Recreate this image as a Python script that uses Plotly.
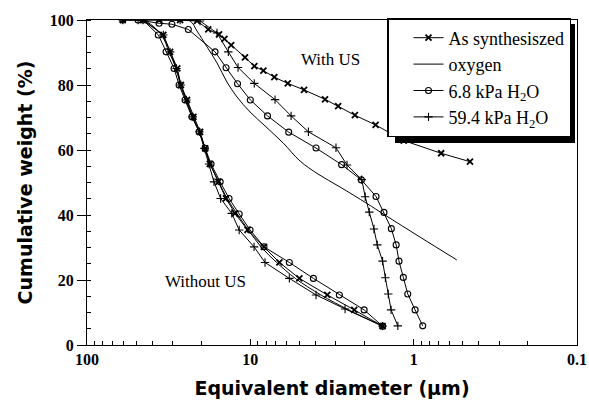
import math
import plotly.graph_objects as go

# Cumulative size distributions (equivalent diameter in µm, cumulative weight in %)
# --- With US ---
as_us_d = [36.2, 26.9, 21.2, 18.1, 15.55, 14.4, 13.1, 10.78, 9.45, 8.32, 7.13, 5.90, 4.69, 3.49, 2.90, 2.29, 1.71, 1.15, 0.679, 0.452]
as_us_y = [100, 100, 99.7, 97.1, 95.6, 94.2, 92.3, 88.5, 85.8, 84.4, 82.4, 80.5, 78.5, 75.6, 73.5, 70.7, 67.7, 62.9, 59.0, 56.4]

oxy_us_d = [48.7, 30.0, 23.4, 21.2, 18.4, 16.0, 13.9, 12.06, 10.04, 8.13, 6.31, 4.96, 3.85, 2.82, 1.94, 1.50, 0.914, 0.545]
oxy_us_y = [100, 100, 99.7, 96.6, 91.7, 86.8, 80.9, 76.3, 71.7, 67.4, 62.2, 56.6, 52.6, 48.6, 43.6, 40.0, 33.2, 26.2]

h68_us_d = [48.7, 36.2, 30.2, 23.97, 16.45, 14.08, 11.98, 10.0, 7.85, 5.82, 3.96, 2.76, 2.09, 1.70, 1.52, 1.37, 1.28, 1.23, 1.157, 1.087, 0.98, 0.88]
h68_us_y = [100, 99.0, 98.7, 97.1, 90.2, 85.3, 80.4, 75.4, 70.5, 65.5, 60.6, 55.5, 50.8, 45.7, 40.8, 35.8, 30.8, 25.8, 20.8, 15.7, 10.8, 5.9]

h594_us_d = [48.7, 26.9, 20.3, 16.0, 13.64, 11.89, 9.46, 7.06, 5.63, 4.41, 2.99, 2.56, 2.08, 1.98, 1.87, 1.75, 1.67, 1.55, 1.49, 1.43, 1.375, 1.25]
h594_us_y = [100, 100, 99.7, 96.0, 90.2, 85.4, 80.5, 75.5, 70.5, 65.6, 60.7, 55.4, 50.9, 45.6, 40.9, 35.7, 30.8, 25.8, 20.7, 15.7, 10.8, 5.9]

# --- Without US ---
as_wo_d = [60.4, 45.4, 34.1, 31.0, 28.0, 26.6, 24.4, 22.3, 20.3, 18.9, 17.7, 15.7, 14.1, 12.4, 10.4, 8.25, 6.64, 5.01, 3.38, 2.31, 1.55]
as_wo_y = [100, 100, 95.4, 90.2, 85.1, 80.0, 75.4, 70.2, 65.6, 60.5, 55.7, 50.2, 45.1, 40.5, 35.4, 30.2, 25.4, 20.5, 15.4, 10.8, 5.8]

oxy_wo_d = [60.4, 45.4, 35.0, 31.5, 28.5, 26.8, 24.8, 22.6, 20.5, 19.0, 17.6, 15.6, 13.9, 12.1, 10.3, 8.6, 6.9, 5.3, 3.7, 2.5, 1.55]
oxy_wo_y = [100, 100, 95.4, 90.2, 85.1, 80.0, 75.4, 70.2, 65.6, 60.5, 55.7, 50.2, 45.1, 40.5, 35.4, 30.2, 25.4, 20.5, 15.4, 10.8, 5.8]

h68_wo_d = [60.4, 45.4, 36.6, 32.8, 29.3, 27.3, 25.1, 22.8, 20.6, 18.9, 17.4, 15.3, 13.5, 11.7, 10.04, 8.25, 5.77, 4.11, 2.85, 2.01, 1.55]
h68_wo_y = [100, 100, 95.4, 90.2, 85.1, 80.0, 75.4, 70.2, 65.6, 60.5, 55.7, 50.2, 45.1, 40.3, 35.4, 30.2, 25.4, 20.5, 15.4, 10.8, 5.8]

h594_wo_d = [60.4, 45.4, 34.1, 31.0, 28.3, 26.6, 24.6, 22.5, 20.5, 19.1, 17.9, 16.7, 15.2, 13.0, 11.7, 9.49, 8.13, 5.77, 3.96, 2.63, 1.55]
h594_wo_y = [100, 100, 95.4, 90.2, 85.1, 80.0, 75.4, 70.2, 65.6, 60.5, 55.7, 50.2, 45.1, 40.5, 35.4, 30.2, 25.4, 20.5, 15.4, 11.1, 5.8]

x_ticks = [100, 10, 1, 0.1]
x_tick_text = ["100", "10", "1", "0.1"]
x_minor = [m * 10.0 ** e for e in (-1, 0, 1) for m in range(2, 10)]

series_names = ["As synthesiszed", "oxygen", "6.8 kPa H<sub>2</sub>O", "59.4 kPa H<sub>2</sub>O"]

SERIF = "Liberation Serif, Times New Roman, serif"
SANS = "DejaVu Sans, Arial, sans-serif"

styles = [
    dict(mode="lines+markers", marker=dict(symbol="x-thin", size=6, line=dict(width=1.8, color="black"), color="black")),
    dict(mode="lines", line_shape="spline"),
    dict(mode="lines+markers", marker=dict(symbol="circle-open", size=6, line=dict(width=1.1, color="black"), color="black")),
    dict(mode="lines+markers", marker=dict(symbol="cross-thin", size=6, line=dict(width=1.1, color="black"), color="black")),
]

with_us = [(as_us_d, as_us_y), (oxy_us_d, oxy_us_y), (h68_us_d, h68_us_y), (h594_us_d, h594_us_y)]
without_us = [(as_wo_d, as_wo_y), (oxy_wo_d, oxy_wo_y), (h68_wo_d, h68_wo_y), (h594_wo_d, h594_wo_y)]

fig = go.Figure()
for i, ((dx, dy), st) in enumerate(zip(with_us, styles)):
    fig.add_trace(go.Scatter(x=dx, y=dy, name=series_names[i], line=dict(color="black", width=1),
                             showlegend=True, **st))
for i, ((dx, dy), st) in enumerate(zip(without_us, styles)):
    fig.add_trace(go.Scatter(x=dx, y=dy, name=series_names[i], line=dict(color="black", width=1),
                             showlegend=False, **st))

# plot-area geometry in pixels, used to place the legend and its drop shadow
W, H = 589, 407
ML, MR, MT, MB = 87, 12, 20, 62
PW, PH = W - ML - MR, H - MT - MB


def px_to_paper(px, py):
    return (px - ML) / PW, (H - MB - py) / PH


lx, ly = px_to_paper(387, 18)
sx0, sy0 = px_to_paper(395, 143)
sx1, sy1 = px_to_paper(575, 24)
fig.add_shape(type="rect", xref="paper", yref="paper", x0=sx0, x1=sx1, y0=sy0, y1=sy1,
              fillcolor="black", line=dict(width=0), layer="above")

fig.add_annotation(x=math.log10(3.25), y=87.7, xref="x", yref="y", text="With US", showarrow=False,
                   font=dict(family=SERIF, size=17, color="black"))
fig.add_annotation(x=math.log10(18.9), y=19.4, xref="x", yref="y", text="Without US", showarrow=False,
                   font=dict(family=SERIF, size=17, color="black"))

fig.update_layout(
    width=W, height=H,
    margin=dict(l=ML, r=MR, t=MT, b=MB),
    paper_bgcolor="white", plot_bgcolor="white",
    showlegend=True,
    legend=dict(x=lx, y=ly, xanchor="left", yanchor="top",
                bgcolor="white", bordercolor="black", borderwidth=1.5,
                font=dict(family=SERIF, size=18, color="black"),
                itemwidth=30, tracegroupgap=0, indentation=20),
    xaxis=dict(
        type="log", range=[2, -1], automargin=False,
        tickvals=x_ticks, ticktext=x_tick_text,
        ticks="inside", ticklen=6, tickcolor="black",
        minor=dict(tickmode="array", tickvals=x_minor, ticks="inside", ticklen=4,
                   tickcolor="black", showgrid=False),
        showline=True, linecolor="black", linewidth=1, mirror=True,
        showgrid=False, zeroline=False,
        tickfont=dict(family=SERIF, size=16, color="black", weight="bold"),
        title=dict(text="Equivalent diameter (\u03bcm)", standoff=14,
                   font=dict(family=SANS, size=19, color="black", weight="bold")),
    ),
    yaxis=dict(
        range=[0, 100], dtick=20, automargin=False,
        ticks="outside", ticklen=9, tickcolor="black",
        minor=dict(dtick=5, ticks="inside", ticklen=4, tickcolor="black", showgrid=False),
        showline=True, linecolor="black", linewidth=1, mirror=True,
        showgrid=False, zeroline=False,
        tickfont=dict(family=SERIF, size=16, color="black", weight="bold"),
        title=dict(text="Cumulative weight (%)", standoff=12,
                   font=dict(family=SANS, size=19, color="black", weight="bold")),
    ),
)

fig.write_html("out.html")
